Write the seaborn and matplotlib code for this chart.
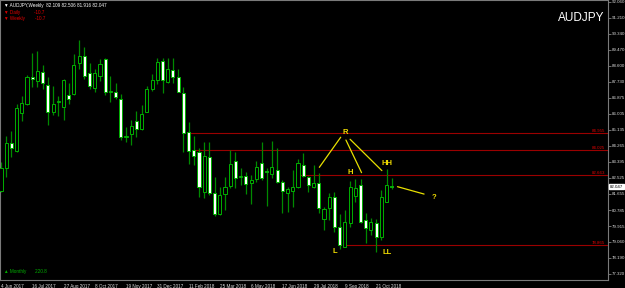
import matplotlib
matplotlib.use("Agg")
import matplotlib.pyplot as plt
import seaborn as sns
import pandas as pd
import numpy as np

# ---------------- data ----------------
week_labels = ["4 Jun 2017", "16 Jul 2017", "27 Aug 2017", "8 Oct 2017", "19 Nov 2017",
               "31 Dec 2017", "11 Feb 2018", "25 Mar 2018", "6 May 2018", "17 Jun 2018",
               "29 Jul 2018", "9 Sep 2018", "21 Oct 2018"]

opens = [81.83, 83.04, 84.40, 83.98, 86.06, 86.51, 88.00, 87.78, 88.27, 87.56,
         86.12, 86.62, 86.39, 87.02, 87.07, 88.77, 89.13, 88.19, 87.42, 88.05,
         88.99, 87.20, 87.16, 86.78, 84.76, 84.89, 85.59, 85.16, 86.12, 87.33,
         87.81, 88.84, 87.74, 88.37, 88.00, 87.15, 85.01, 84.02, 83.93, 81.78,
         83.64, 81.69, 80.57, 81.63, 82.10, 83.46, 82.60, 82.63, 82.27, 82.47,
         83.35, 82.92, 82.74, 82.94, 82.32, 81.69, 81.83, 82.05, 83.22, 82.59,
         82.05, 82.23, 80.28, 80.88, 81.51, 79.85, 78.80, 80.06, 81.56, 82.14,
         80.24, 79.70, 80.06, 79.30, 81.24, 82.109]
highs = [83.37, 84.80, 85.07, 86.51, 86.96, 88.10, 89.28, 89.39, 88.64, 87.98,
         87.51, 86.96, 87.87, 87.69, 89.24, 90.00, 89.64, 88.74, 88.41, 88.97,
         89.01, 88.05, 87.65, 87.06, 85.27, 85.66, 86.17, 86.48, 87.52, 88.14,
         89.01, 89.01, 89.01, 89.01, 88.43, 87.47, 85.57, 84.81, 84.13, 84.49,
         84.49, 82.56, 82.05, 82.59, 84.04, 83.95, 83.04, 82.86, 82.68, 83.46,
         84.45, 83.08, 84.53, 84.16, 82.41, 82.05, 82.95, 83.55, 83.89, 82.65,
         83.22, 82.77, 80.97, 81.69, 81.78, 80.57, 80.79, 82.36, 82.45, 82.45,
         80.61, 80.33, 80.30, 81.87, 83.01, 82.506]
lows = [81.78, 82.56, 83.68, 83.95, 85.63, 86.48, 87.47, 87.47, 87.33, 85.39,
        85.94, 85.88, 85.66, 86.51, 87.02, 88.41, 87.87, 87.33, 87.18, 87.80,
        87.02, 86.64, 86.78, 84.58, 84.45, 84.31, 84.76, 85.12, 86.08, 87.25,
        87.60, 87.15, 87.65, 87.65, 87.16, 83.95, 83.28, 83.22, 81.51, 81.42,
        81.60, 80.46, 80.52, 80.79, 81.96, 81.96, 82.14, 81.63, 81.11, 82.32,
        82.41, 81.02, 82.54, 82.23, 80.61, 80.70, 80.97, 82.00, 82.56, 81.78,
        81.96, 80.61, 79.70, 80.24, 79.61, 78.65, 78.76, 79.85, 81.24, 80.06,
        79.02, 79.43, 78.53, 79.16, 81.20, 81.916]
closes = [83.04, 84.40, 84.16, 86.30, 86.57, 88.00, 87.87, 88.34, 87.69, 86.12,
          86.51, 86.68, 87.81, 86.80, 88.63, 89.13, 88.07, 87.52, 88.19, 88.68,
          87.20, 87.22, 86.89, 84.76, 84.81, 85.34, 85.16, 85.99, 87.33, 87.81,
          88.81, 87.81, 88.43, 88.01, 87.20, 84.94, 84.00, 83.73, 82.05, 83.73,
          81.69, 80.57, 81.58, 82.01, 83.28, 82.52, 82.62, 82.18, 82.41, 83.10,
          82.50, 82.85, 83.13, 82.30, 81.82, 81.92, 82.01, 83.35, 82.65, 82.14,
          82.27, 80.88, 80.82, 81.47, 79.88, 78.89, 80.12, 82.01, 81.96, 80.15,
          79.83, 80.12, 79.30, 81.47, 82.12, 82.047]

level_prices = [84.955, 84.025, 82.663, 78.865]
level_starts = [36, 37, 57, 66]

price_ticks = [92.060, 91.210, 90.340, 89.470, 88.600, 87.730, 86.875, 86.005, 85.135,
               84.265, 83.395, 82.525, 81.655, 80.785, 79.915, 79.060, 78.190, 77.320]

df = pd.DataFrame({"open": opens, "high": highs, "low": lows, "close": closes})
df["idx"] = np.arange(len(df))
df["bull"] = df["close"] >= df["open"]

# ---------------- style ----------------
sns.set_theme(style="dark", rc={
    "figure.facecolor": "black", "axes.facecolor": "black",
    "axes.edgecolor": "#7a7a7a", "axes.grid": False,
    "xtick.color": "#9a9a9a", "ytick.color": "#9a9a9a",
    "text.color": "white"})
plt.rcParams["font.family"] = ["Liberation Sans", "DejaVu Sans"]

SMALL = 3.3
YLAB = 3.2

fig = plt.figure(figsize=(6.25, 2.88), dpi=100)
ax = fig.add_axes([0.0, 1 - 280 / 288, 608 / 625, 280 / 288])

GREEN_EDGE = "#00b000"
GREEN_WICK = "#008a00"

# wicks
ax.vlines(df["idx"], df["low"], df["high"], color=GREEN_WICK, lw=0.9, zorder=2)
# bodies
bottoms = np.minimum(df["open"], df["close"])
heights = np.maximum(np.abs(df["close"] - df["open"]), 0.035)
ax.bar(df["idx"], heights, bottom=bottoms, width=0.6,
       color=np.where(df["bull"], "black", "white"),
       edgecolor=GREEN_EDGE, linewidth=0.7, zorder=3)

# horizontal levels
for p, s in zip(level_prices, level_starts):
    ax.hlines(p, s, 116.5, color="#9a0000", lw=0.8, zorder=1)
    ax.text(116.0, p + 0.02, f"{p:.3f}", color="#e00000", fontsize=YLAB,
            ha="right", va="bottom", zorder=4)

ax.set_xlim(-0.19, 116.5)
ax.set_ylim(92.06 - 278 / 18.45, 92.06 + 2 / 18.45)

# axes ticks
ax.yaxis.tick_right()
ax.set_yticks(price_ticks)
ax.set_yticklabels([f"{t:.3f}" for t in price_ticks], fontsize=YLAB, color="#dcdcdc")
ax.tick_params(axis="y", length=2, width=0.5, pad=1.0, colors="#9a9a9a", labelcolor="#dcdcdc")
xt = np.arange(0, 6 * len(week_labels), 6)
ax.set_xticks(xt)
ax.set_xticklabels(week_labels, fontsize=SMALL, color="#dcdcdc", ha="left")
ax.tick_params(axis="x", length=2, width=0.5, pad=0.8, colors="#9a9a9a", labelcolor="#dcdcdc")
for lab in ax.get_xticklabels():
    lab.set_horizontalalignment("left")
for sp in ax.spines.values():
    sp.set_linewidth(0.8)
    sp.set_color("#7a7a7a")

# current price tag
ax.text(1.003, closes[-1], f"{closes[-1]:.3f}", transform=ax.get_yaxis_transform(),
        fontsize=YLAB, color="black", ha="left", va="center",
        bbox=dict(boxstyle="square,pad=0.15", fc="white", ec="white"), clip_on=False)

# header texts
ax.text(0.006, 0.988, "\u25bc AUDJPY,Weekly  82.109 82.506 81.916 82.047", transform=ax.transAxes,
        fontsize=SMALL, color="white", va="top", ha="left")
ax.text(0.006, 0.966, "\u25bc Daily           -10.7", transform=ax.transAxes,
        fontsize=SMALL, color="#e00000", va="top", ha="left")
ax.text(0.006, 0.944, "\u25bc Weekly        -10.7", transform=ax.transAxes,
        fontsize=SMALL, color="#e00000", va="top", ha="left")
ax.text(0.006, 0.02, "\u25b2 Monthly       220.8", transform=ax.transAxes,
        fontsize=SMALL, color="#00b000", va="bottom", ha="left")
ax.text(0.994, 0.958, "AUDJPY", transform=ax.transAxes, fontsize=8.5, color="white",
        va="top", ha="right")

# yellow annotations
YL = "#e8e000"
ax.plot([65.2, 61.1], [84.73, 83.10], color=YL, lw=0.9)
ax.plot([66.2, 69.2], [84.58, 82.81], color=YL, lw=0.9)
ax.plot([67.0, 73.1], [84.62, 82.92], color=YL, lw=0.9)
ax.plot([76.1, 81.2], [82.05, 81.65], color=YL, lw=0.9)
for t, x, y in [("R", 66.0, 85.01), ("H", 67.1, 82.81), ("HH", 74.1, 83.32),
                ("L", 64.1, 78.56), ("LL", 74.1, 78.47), ("?", 83.1, 81.45)]:
    ax.text(x, y, t, color="#f0dc00", fontsize=5.5, fontweight="bold", ha="center", va="center")

fig.savefig("out.png", dpi=100, facecolor="black")
